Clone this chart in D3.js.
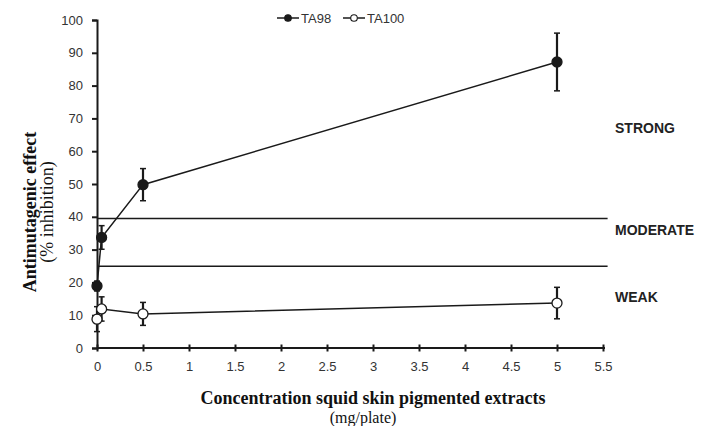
<!DOCTYPE html>
<html>
<head>
<meta charset="utf-8">
<script src="https://cdn.jsdelivr.net/npm/d3@7"></script>
<style>
  html, body { margin: 0; padding: 0; background: #fff; }
  svg { display: block; }
</style>
</head>
<body>
<svg id="chart" width="702" height="426"></svg>
<script>
// ---- data ----
const concentrations = [0, 0.05, 0.5, 5];
const ta98Values = [18.9, 33.7, 49.8, 87.2];
const ta98Errors = [1.5, 3.6, 4.9, 8.8];
const ta100Values = [8.8, 11.9, 10.4, 13.7];
const ta100Errors = [3.8, 3.7, 3.5, 4.8];
const xTicks = [0, 0.5, 1, 1.5, 2, 2.5, 3, 3.5, 4, 4.5, 5, 5.5];
const yTicks = [0, 10, 20, 30, 40, 50, 60, 70, 80, 90, 100];
const thresholds = [39.5, 24.9];
const zoneLabels = ["STRONG", "MODERATE", "WEAK"];
const zoneLabelValues = [67, 36, 15.5];
const seriesNames = ["TA98", "TA100"];

// ---- setup ----
const svg = d3.select("#chart");
const x = d3.scaleLinear().domain([0, 5.5]).range([97, 603]);
const y = d3.scaleLinear().domain([0, 100]).range([348, 20]);
const ink = "#1a1a1a";

// threshold lines
svg.append("g").selectAll("line").data(thresholds).join("line")
  .attr("x1", x(0)).attr("x2", x(5.55))
  .attr("y1", d => y(d)).attr("y2", d => y(d))
  .attr("stroke", ink).attr("stroke-width", 1.5);

// y axis
const yAxis = svg.append("g").attr("transform", `translate(${x(0)},0)`)
  .call(d3.axisLeft(y).tickValues(yTicks).tickSize(5).tickPadding(9).tickFormat(d => String(d)));
yAxis.select(".domain").attr("stroke", ink).attr("stroke-width", 2);
yAxis.selectAll(".tick line").attr("stroke", ink).attr("stroke-width", 2);
yAxis.selectAll("text").attr("font-family", "Liberation Sans, Arial, sans-serif")
  .attr("font-size", 13).attr("fill", "#333");

// x axis
const xAxis = svg.append("g").attr("transform", `translate(0,${y(0)})`)
  .call(d3.axisBottom(x).tickValues(xTicks).tickSize(3).tickPadding(11).tickFormat(d => String(d)));
xAxis.select(".domain").attr("stroke", ink).attr("stroke-width", 2).attr("d", `M${x(0)},0H${x(5.5)+2}`);
xAxis.selectAll(".tick line").attr("y1", -3.5).attr("y2", 3.5).attr("stroke", ink).attr("stroke-width", 2);
xAxis.selectAll("text").attr("font-family", "Liberation Sans, Arial, sans-serif")
  .attr("font-size", 13).attr("fill", "#333");

// series
const series = [
  { name: seriesNames[0], values: ta98Values, errors: ta98Errors, fill: ink },
  { name: seriesNames[1], values: ta100Values, errors: ta100Errors, fill: "#fff" }
];
const line = d3.line().x(d => x(d[0])).y(d => y(d[1]));

series.forEach(s => {
  const pts = concentrations.map((c, i) => [c, s.values[i], s.errors[i]]);
  svg.append("path").datum(pts).attr("d", line)
    .attr("fill", "none").attr("stroke", ink).attr("stroke-width", 1.5);
  const eb = svg.append("g");
  pts.forEach(p => {
    eb.append("line").attr("x1", x(p[0])).attr("x2", x(p[0]))
      .attr("y1", y(p[1] - p[2])).attr("y2", y(p[1] + p[2]))
      .attr("stroke", ink).attr("stroke-width", 2.2);
    [p[1] - p[2], p[1] + p[2]].forEach(v => {
      eb.append("line").attr("x1", x(p[0]) - 3).attr("x2", x(p[0]) + 3)
        .attr("y1", y(v)).attr("y2", y(v))
        .attr("stroke", ink).attr("stroke-width", 1.5);
    });
  });
});
series.forEach(s => {
  const pts = concentrations.map((c, i) => [c, s.values[i]]);
  svg.append("g").selectAll("circle").data(pts).join("circle")
    .attr("cx", d => x(d[0])).attr("cy", d => y(d[1]))
    .attr("r", 5).attr("fill", s.fill).attr("stroke", ink).attr("stroke-width", 1.3);
});

// zone labels
svg.append("g").selectAll("text").data(zoneLabels).join("text")
  .attr("x", 615).attr("y", (d, i) => y(zoneLabelValues[i]))
  .attr("dy", "0.35em")
  .attr("font-family", "Liberation Sans, Arial, sans-serif")
  .attr("font-weight", "bold").attr("font-size", 14).attr("fill", "#222")
  .text(d => d);

// legend
const legendX = [277, 343];
const legend = svg.append("g");
series.forEach((s, i) => {
  const lx = legendX[i], ly = 18;
  legend.append("line").attr("x1", lx).attr("x2", lx + 22).attr("y1", ly).attr("y2", ly)
    .attr("stroke", ink).attr("stroke-width", 1.5);
  legend.append("circle").attr("cx", lx + 11).attr("cy", ly).attr("r", 3.3)
    .attr("fill", s.fill).attr("stroke", ink).attr("stroke-width", 1.1);
  legend.append("text").attr("x", lx + 24).attr("y", ly).attr("dy", "0.35em")
    .attr("font-family", "Liberation Sans, Arial, sans-serif").attr("font-size", 13)
    .attr("fill", "#333").text(s.name);
});

// axis titles
svg.append("text").attr("x", 373).attr("y", 404).attr("text-anchor", "middle")
  .attr("font-family", "Liberation Serif, Times New Roman, serif").attr("font-weight", "bold")
  .attr("font-size", 18).attr("fill", "#111").text("Concentration squid skin pigmented extracts");
svg.append("text").attr("x", 363).attr("y", 423).attr("text-anchor", "middle")
  .attr("font-family", "Liberation Serif, Times New Roman, serif")
  .attr("font-size", 16).attr("fill", "#111").text("(mg/plate)");
svg.append("text").attr("transform", "translate(36,212) rotate(-90)").attr("text-anchor", "middle")
  .attr("font-family", "Liberation Serif, Times New Roman, serif").attr("font-weight", "bold")
  .attr("font-size", 18).attr("fill", "#111").text("Antimutagenic effect");
svg.append("text").attr("transform", "translate(53,212) rotate(-90)").attr("text-anchor", "middle")
  .attr("font-family", "Liberation Serif, Times New Roman, serif")
  .attr("font-size", 18).attr("fill", "#111").text("(% inhibition)");
</script>
</body>
</html>
